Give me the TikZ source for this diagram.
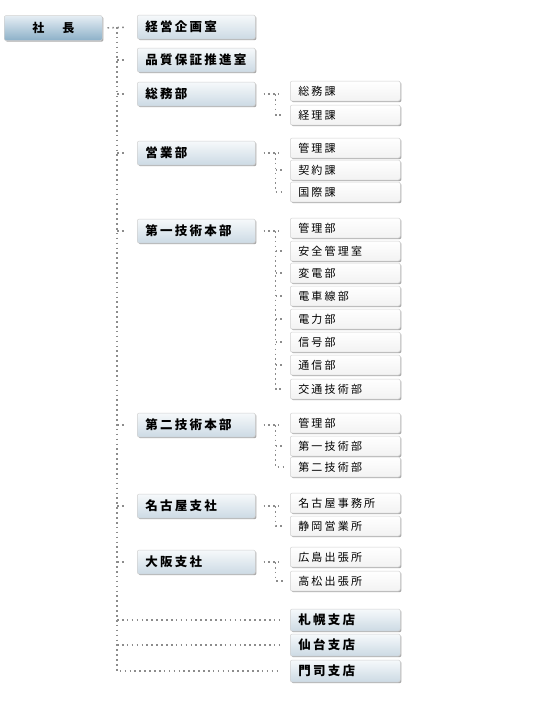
\documentclass[tikz,border=0pt]{standalone}
\usepackage{fontspec}
\newfontfamily\jp{Noto Sans CJK JP}
\usetikzlibrary{positioning,shadows}
\definecolor{chieftop}{HTML}{E6EEF4}
\definecolor{chiefbot}{HTML}{8CB0C8}
\definecolor{depttop}{HTML}{F6F9FB}
\definecolor{deptbot}{HTML}{CCDAE4}
\tikzset{
  every node/.style={font=\jp},
  box/.style={
    draw=black!18, rounded corners=2pt, line width=0.5pt, inner ysep=0pt,
    drop shadow={shadow xshift=1.2pt, shadow yshift=-1.2pt, opacity=0.55, fill=black!60}
  },
  chief/.style={
    box, top color=chieftop, bottom color=chiefbot,
    minimum width=98pt, minimum height=25pt, inner xsep=0pt,
    font=\jp\bfseries\fontsize{12}{12}\selectfont
  },
  dept/.style={
    box, top color=depttop, bottom color=deptbot,
    minimum height=24pt, text width=102pt, inner xsep=8pt, align=left,
    font=\jp\bfseries\fontsize{12.5}{12.5}\selectfont\addfontfeature{LetterSpace=18}
  },
  branch/.style={dept, minimum height=22pt, text width=94pt},
  sect/.style={
    box, top color=white, bottom color=black!5,
    minimum height=20pt, text width=94pt, inner xsep=8pt, align=left,
    font=\jp\fontsize{11}{11}\selectfont\addfontfeature{LetterSpace=20}
  },
  dotln/.style={draw=black!45, line width=1.6pt, dash pattern=on 1.6pt off 3.3pt}
}

\begin{document}
\begin{tikzpicture}[x=1pt, y=-1pt]
\useasboundingbox (0,0) rectangle (538,710);

% president
\node[chief, anchor=west] (shacho) at (4,28) {社\hspace{1.5em}長};

% departments
\node[dept, anchor=west] (kikaku) at (137,27) {経営企画室};
\node[dept, anchor=west] (hinshitsu) at (137,60) {品質保証推進室};
\node[dept, anchor=west] (soumu) at (137,94) {総務部};
\node[dept, anchor=west] (eigyou) at (137,153) {営業部};
\node[dept, anchor=west] (gijutsu1) at (137,231) {第一技術本部};
\node[dept, anchor=west] (gijutsu2) at (137,425) {第二技術本部};
\node[dept, anchor=west] (nagoya) at (137,506) {名古屋支社};
\node[dept, anchor=west] (osaka) at (137,562) {大阪支社};

% sections
\node[sect, anchor=west] (soumuka) at (290,91) {総務課};
\node[sect, anchor=west] (keiri) at (290,115) {経理課};

\node[sect, anchor=west] (kanrika) at (290,148) {管理課};
\node[sect, anchor=west] (keiyaku) at (290,170) {契約課};
\node[sect, anchor=west] (kokusai) at (290,192) {国際課};

\node[sect, anchor=west] (ga) at (290,228) {管理部};
\node[sect, anchor=west] (gb) at (290,251) {安全管理室};
\node[sect, anchor=west] (gc) at (290,273) {変電部};
\node[sect, anchor=west] (gd) at (290,296) {電車線部};
\node[sect, anchor=west] (ge) at (290,319) {電力部};
\node[sect, anchor=west] (gf) at (290,342) {信号部};
\node[sect, anchor=west] (gg) at (290,365) {通信部};
\node[sect, anchor=west] (gh) at (290,389) {交通技術部};

\node[sect, anchor=west] (ha) at (290,423) {管理部};
\node[sect, anchor=west] (hb) at (290,446) {第一技術部};
\node[sect, anchor=west] (hc) at (290,467) {第二技術部};

\node[sect, anchor=west] (nj) at (290,503) {名古屋事務所};
\node[sect, anchor=west] (sz) at (290,526) {静岡営業所};

\node[sect, anchor=west] (hs) at (290,557) {広島出張所};
\node[sect, anchor=west] (tk) at (290,581) {高松出張所};

% branches
\node[branch, anchor=west] (sapporo) at (290,620) {札幌支店};
\node[branch, anchor=west] (sendai) at (290,645) {仙台支店};
\node[branch, anchor=west] (moji) at (290,671) {門司支店};

% trunk
\coordinate (trunk) at (117,27);
\draw[dotln, shorten <=5pt, shorten >=10pt] (shacho.east) -- (kikaku.west);
\draw[dotln, shorten >=10pt] (trunk) |- (moji.west);
\foreach \n in {hinshitsu,soumu,eigyou,gijutsu1,gijutsu2,nagoya,osaka}
  \draw[dotln, shorten >=12pt] (trunk |- \n.west) -- (\n.west);
\foreach \n in {sapporo,sendai}
  \draw[dotln, shorten >=10pt] (trunk |- \n.west) -- (\n.west);

% sub branches
\foreach \p/\a/\z/\m in {soumu/soumuka/keiri/{},
                         eigyou/kanrika/kokusai/{keiyaku},
                         gijutsu1/ga/gh/{gb,gc,gd,ge,gf,gg},
                         gijutsu2/ha/hc/{hb},
                         nagoya/nj/sz/{},
                         osaka/hs/tk/{}}{
  \coordinate (\p-br) at ([xshift=20pt]\p.east);
  \draw[dotln, shorten <=8pt, shorten >=11pt] (\p.east) -- (\p.east -| \a.west);
  \draw[dotln, shorten >=7pt] (\p-br) |- (\z.west);
  \foreach \c in \m
    \draw[dotln, shorten >=7pt] (\p-br |- \c.west) -- (\c.west);
}

\end{tikzpicture}
\end{document}
